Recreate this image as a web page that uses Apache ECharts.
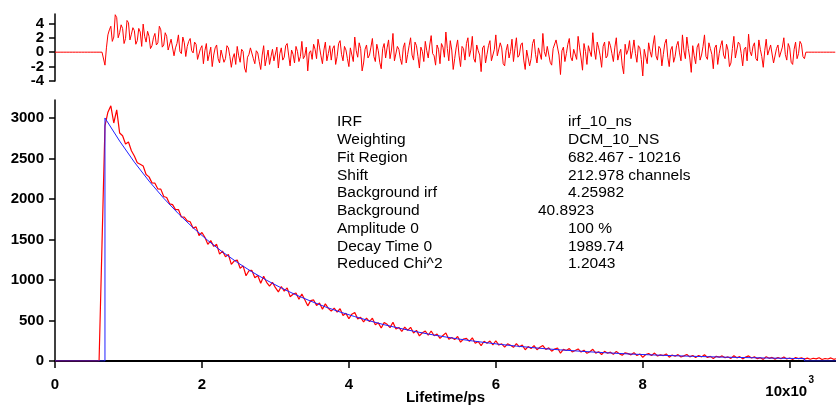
<!DOCTYPE html>
<html><head><meta charset="utf-8">
<script src="https://cdn.jsdelivr.net/npm/echarts@6/dist/echarts.min.js"></script>
<style>html,body{margin:0;padding:0;background:#fff}#c{width:836px;height:406px}</style>
</head><body><div id="c"></div>
<script>
// ---- data (lifetime in 10^3 ps) ----
const countStart = 0;
const countWidth = 0.04;
const counts = [
0,0,0,0,0,0,0,0,0,0,0,0,0,0,0,
3,1450,
2902,3072,3150,2938,3100,
2814,2781,2678,2703,2596,
2530,2447,2428,2407,2302,
2273,2199,2195,2123,2122,
2031,2019,1940,1930,1869,
1870,1778,1775,1730,1719,
1640,1656,1549,1586,1527,
1441,1486,1415,1440,1319,
1357,1286,1315,1193,1236,
1246,1145,1174,1052,1115,
1118,1027,1056,960,1047,
971,923,971,905,853,
920,863,903,794,825,
839,763,828,755,681,
745,754,686,715,640,
705,650,615,653,603,
645,563,588,521,578,
598,520,539,482,530,
487,529,448,471,407,
474,453,412,478,394,
414,364,418,377,416,
346,378,310,349,369,
318,370,311,333,279,
315,347,269,290,264,
303,233,272,279,243,
285,220,241,190,244,
220,246,200,250,197,
212,170,212,194,169,
214,175,196,139,178,
154,189,140,169,191,
143,162,121,147,160,
96,144,129,154,112,
130,149,110,133,95,
114,144,97,114,80,
119,95,109,82,118,
91,71,101,91,76,
103,68,87,44,80,
91,68,98,62,76,
67,87,47,74,59,
79,50,63,81,51,
67,42,68,51,77,
44,57,30,59,47,
63,40,50,32,65,
39,54,26,48,63,
37,51,29,41,20,
52,33,44,23,43,
27,50,24,37,18,
42,29,39,23,
36,22,34,27,40,19,31,25,38,21,30
];
const residualStart = 0;
const residualWidth = 0.02;
const residuals = [
0,0,0,0,0,0,0,0,0,0,0,0,0,0,0,0,0,0,0,0,0,0,0,0,0,0,0,0,0,0,0,0,0,0,
-1.8,0.6,2.4,3.1,3.6,1.5,2.1,5.2,4.8,2.0,2.7,3.8,3.3,1.2,1.9,4.4,4.1,1.7,2.5,3.4,
3.0,1.1,1.6,3.3,2.8,0.8,3.9,2.2,1.4,2.9,2.2,0.5,0.9,2.0,2.6,1.0,1.3,3.6,3.1,0.7,
1.0,2.7,2.2,0.3,0.4,1.8,1.7,-0.5,0.6,1.2,2.4,0.1,-0.2,2.1,1.3,-0.6,0.8,1.5,1.9,0.2,
-0.1,1.4,1.1,-1.0,-0.8,0.5,0.9,-1.6,0.2,1.2,-1.2,-0.3,0.7,-2.0,-0.4,0.6,1.0,-0.9,-1.5,0.3,
0.3,-1.4,-0.9,0.9,0.6,-0.6,-2.1,-0.8,-0.2,-1.7,0.8,-0.5,-1.4,0.4,0.1,-2.2,-2.8,-0.7,-0.3,0.6,
0.5,-0.9,-1.6,0.2,-0.1,-1.3,-2.4,-0.4,0.9,-1.9,-0.8,0.3,-1.7,-0.6,0.4,-1.2,-1.1,0.7,-2.2,-0.2,
0.6,-1.1,-0.7,0.9,1.2,-0.4,-1.9,0.3,-0.3,-1.5,0.8,0.1,-1.3,-0.6,1.5,-0.9,-0.5,0.7,-2.6,-0.1,
0.2,-1.0,1.1,0.4,-0.9,1.8,0.7,-0.5,-1.6,0.3,1.4,-1.2,-0.2,0.9,-1.1,0.5,0.9,-1.7,-0.6,1.2,
1.6,-0.3,-1.2,0.8,0.3,-0.9,-2.0,0.6,0.8,-1.3,2.1,0.2,-0.7,1.3,0.5,-2.6,-1.5,0.4,1.0,-0.8,
-0.4,0.7,1.9,-0.6,-1.3,1.1,0.2,-1.4,-2.3,0.5,1.2,-0.8,0.6,1.7,-0.9,0.3,2.6,-1.2,-1.0,0.8,
0.4,-0.9,-1.7,0.6,1.3,-1.5,-0.3,0.9,2.0,-0.4,-1.1,1.4,0.9,-0.6,-2.2,0.7,0.1,-1.3,1.5,0.2,
-0.8,1.0,2.3,-0.2,-0.5,-1.8,1.0,0.4,-1.6,1.2,0.7,-0.7,2.8,0.5,-1.2,1.6,0.3,-2.4,-0.9,0.6,
1.7,-0.5,-2.0,0.8,0.5,-1.1,1.2,2.0,-0.6,0.3,2.2,-0.9,-1.4,1.0,0.2,-0.4,-2.7,0.6,0.9,-1.5,
-0.3,0.9,1.6,-1.2,-1.0,0.4,2.4,-0.5,-0.7,1.3,0.6,-1.6,-1.9,0.2,1.1,-0.8,0.1,1.8,-1.3,0.5,
2.0,-0.7,-0.4,1.0,1.3,-1.1,-2.4,0.3,0.5,-1.9,-0.9,1.2,1.8,-0.3,-1.5,0.6,0.8,-1.0,2.6,0.1,
-0.6,0.8,1.0,-1.4,-1.8,0.5,0.3,1.7,1.5,-0.4,-3.1,0.2,0.7,-1.3,-0.2,1.1,1.9,-0.7,-1.2,0.4,
0.4,-1.0,2.2,0.6,-0.8,-2.5,1.2,0.1,-1.7,0.9,0.1,-0.6,2.7,0.3,-1.0,1.4,0.6,-0.5,-2.1,0.8,
1.4,-0.8,-0.5,1.5,0.9,-0.2,-1.3,0.7,2.0,-1.1,-0.2,0.4,-1.8,-3.0,1.1,-0.3,0.3,1.6,-0.9,0.2,
1.7,-0.2,-1.4,0.9,0.6,-1.0,-3.3,0.4,0.2,-1.6,1.3,0.1,-0.7,1.0,2.3,-0.5,-1.1,0.8,0.5,-1.9,
-0.3,1.2,1.8,-0.7,-2.0,0.3,0.8,-1.4,-0.6,0.9,1.5,-0.1,-1.2,2.4,0.2,-0.9,2.1,0.5,-0.8,-2.8,
0.9,-0.5,-1.6,0.7,1.2,-1.1,-0.4,0.8,2.4,-0.6,-1.0,1.3,0.5,-0.3,-2.3,0.6,1.0,-1.7,-0.2,0.9,
1.6,-0.4,-0.9,1.1,0.3,-2.0,-1.5,0.5,2.2,-0.8,-0.6,1.4,1.1,-0.2,-1.9,0.4,0.7,-1.2,2.5,0.1,
-0.5,0.8,1.3,-0.9,-1.2,1.7,0.4,-0.6,-2.1,0.2,1.8,-0.4,-0.3,1.0,0.9,-1.5,-1.4,0.5,1.0,-0.7,
-0.8,0.7,2.0,-0.3,-1.1,1.2,0.6,-1.4,-1.7,0.4,1.4,-0.9,-0.2,1.5,1.1,-0.6,-0.9,
0,0,0,0,0,0,0,0,0,0,0,0,0,0,0,0,0,0,0,0,0
];
const fitTime = [0,0.68,
0.68,0.88,1.08,1.28,1.48,1.68,1.88,2.08,2.28,2.48,
2.68,2.88,3.08,3.28,3.48,3.68,3.88,4.08,4.28,4.48,
4.68,4.88,5.08,5.28,5.48,5.68,5.88,6.08,6.28,6.48,
6.68,6.88,7.08,7.28,7.48,7.68,7.88,8.08,8.28,8.48,
8.68,8.88,9.08,9.28,9.48,9.68,9.88,10.08,
10.2,10.2,10.63];
const fitCounts = [0,0,
3000,2715,2455,2221,2009,1818,1644,1488,1346,1218,
1101,997,902,816,739,668,605,548,496,448,
406,368,333,302,273,248,225,203,184,167,
151,137,125,113,103,93,84,77,70,64,
58,53,48,44,41,37,34,31,
30,0,0];
const xTicks = [0,2,4,6,8,10];
const countTicks = [0,500,1000,1500,2000,2500,3000];
const residualTicksA = [-4,0,4];
const residualTicksB = [-2,2];
const fitLabels = ['IRF','Weighting','Fit Region','Shift','Background irf','Background','Amplitude 0','Decay Time 0','Reduced Chi^2'];
const fitValues = ['irf_10_ns','DCM_10_NS','682.467 - 10216','212.978 channels','4.25982','40.8923','100 %','1989.74','1.2043'];

// ---- build ----
const cntData = counts.map((c, i) => [+(countStart + i * countWidth).toFixed(2), c]);
const resData = residuals.map((r, i) => [+(residualStart + i * residualWidth).toFixed(2), r]);
const fitData = fitTime.map((t, i) => [t, fitCounts[i]]);

const FONT = '"Liberation Sans", Arial, sans-serif';
const XMAX = 10.63;
const lblStyle = {color: '#000', fontFamily: FONT, fontSize: 15, fontWeight: 'bold'};

const graphics = [];
const valueX = [568,568,568,568,568,538,568,568,568];
fitLabels.forEach((s, r) => {
  const y = 122 + r * 17.75;
  graphics.push({type: 'text', x: 337, y: y, style: {text: s, fill: '#000', font: '15.5px ' + FONT, verticalAlign: 'middle'}});
  graphics.push({type: 'text', x: valueX[r], y: y, style: {text: fitValues[r], fill: '#000', font: '15.5px ' + FONT, verticalAlign: 'middle'}});
});

function resAxis(ticks, showLine) {
  return {type: 'value', gridIndex: 0, min: -4, max: 5.3, position: 'left', offset: 0,
    axisLine: {show: showLine, onZero: false, lineStyle: {color: '#000', width: 1.5}},
    axisTick: {show: true, length: 6, customValues: ticks, lineStyle: {color: '#000', width: 1.5}},
    splitLine: {show: false},
    axisLabel: Object.assign({}, lblStyle, {margin: 11, customValues: ticks,
      showMinLabel: true, showMaxLabel: true, hideOverlap: false, formatter: v => String(v)})};
}

const chart = echarts.init(document.getElementById('c'), null, {renderer: 'canvas'});
chart.setOption({
  animation: false,
  backgroundColor: '#fff',
  grid: [
    {left: 55, right: 0, top: 14, height: 67, containLabel: false, outerBoundsMode: 'none'},
    {left: 55, right: 0, top: 100, bottom: 45, containLabel: false, outerBoundsMode: 'none'}
  ],
  xAxis: [
    {type: 'value', gridIndex: 0, min: 0, max: XMAX, show: false, splitLine: {show: false}},
    {type: 'value', gridIndex: 1, min: 0, max: XMAX, interval: 2,
     name: 'Lifetime/ps', nameLocation: 'middle', nameGap: 29, nameMoveOverlap: false,
     nameTextStyle: {color: '#000', fontFamily: FONT, fontSize: 15, fontWeight: 'bold'},
     axisLine: {onZero: false, lineStyle: {color: '#000', width: 2}},
     axisTick: {length: 7, customValues: xTicks, lineStyle: {color: '#000', width: 1.5}},
     splitLine: {show: false},
     axisLabel: Object.assign({}, lblStyle, {margin: 16, customValues: xTicks,
       showMinLabel: true, showMaxLabel: true, hideOverlap: false,
       formatter: v => v === 10 ? '{s|3}\n{b|10x10}' : String(v),
       rich: {
         b: {fontFamily: FONT, fontSize: 15, fontWeight: 'bold', color: '#000', lineHeight: 15, padding: [0, 7, 0, 0]},
         s: {fontFamily: FONT, fontSize: 10, fontWeight: 'bold', color: '#000', lineHeight: 7, align: 'right'}
       }})}
  ],
  yAxis: [
    resAxis(residualTicksA, true),
    resAxis(residualTicksB, false),
    {type: 'value', gridIndex: 1, min: 0, max: 3222, interval: 500,
     axisLine: {show: true, onZero: false, lineStyle: {color: '#000', width: 1.5}},
     axisTick: {show: true, length: 6, customValues: countTicks, lineStyle: {color: '#000', width: 1.5}},
     splitLine: {show: false},
     axisLabel: Object.assign({}, lblStyle, {margin: 11, customValues: countTicks,
       showMinLabel: true, showMaxLabel: true, formatter: v => String(v)})}
  ],
  series: [
    {type: 'line', name: 'residuals', xAxisIndex: 0, yAxisIndex: 0, data: resData,
     showSymbol: false, lineStyle: {color: '#ff0000', width: 1}, z: 3},
    {type: 'line', name: 'counts', xAxisIndex: 1, yAxisIndex: 2, data: cntData,
     showSymbol: false, lineStyle: {color: '#ff0000', width: 1.2}, z: 3},
    {type: 'line', name: 'fit', xAxisIndex: 1, yAxisIndex: 2, data: fitData,
     showSymbol: false, lineStyle: {color: '#2020ff', width: 1}, z: 4}
  ],
  graphic: graphics
});
</script></body></html>
